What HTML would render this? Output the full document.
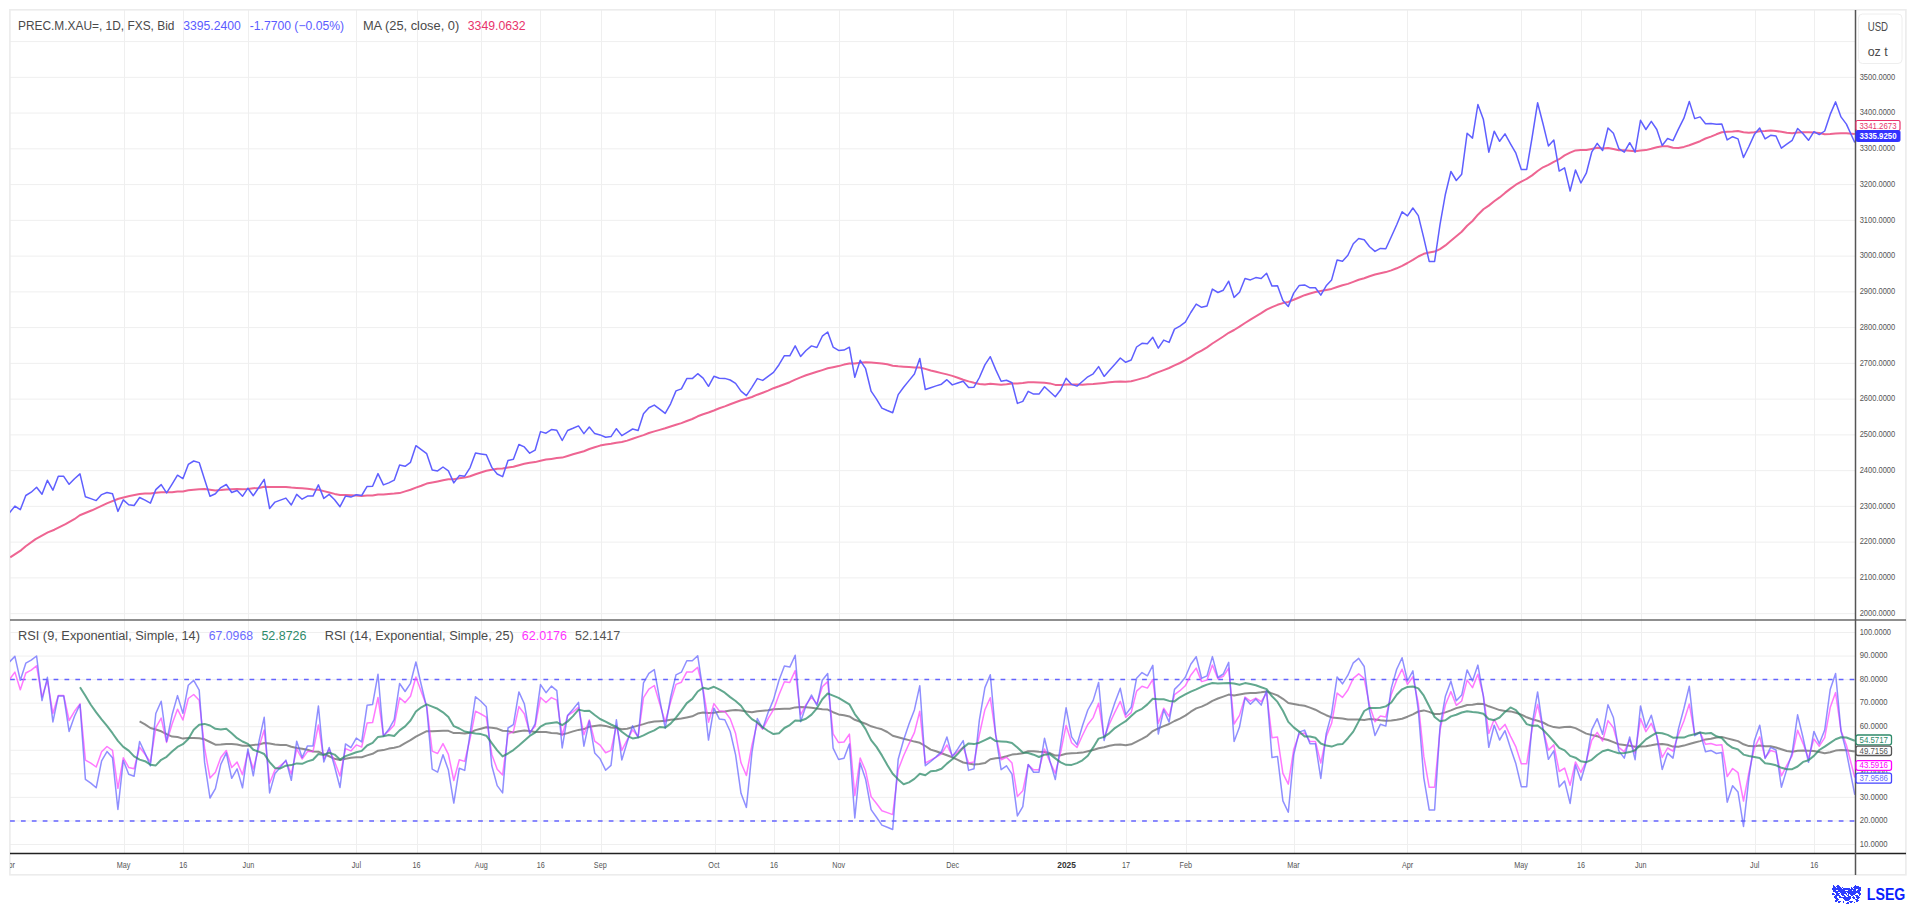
<!DOCTYPE html><html><head><meta charset="utf-8"><style>html,body{margin:0;padding:0;background:#fff;overflow:hidden}svg{display:block}</style></head><body><svg width="1916" height="905" viewBox="0 0 1916 905">
<rect x="0" y="0" width="1916" height="905" fill="#ffffff"/>
<path d="M10 613.65H1855M10 577.89H1855M10 542.14H1855M10 506.38H1855M10 470.63H1855M10 434.88H1855M10 399.12H1855M10 363.37H1855M10 327.61H1855M10 291.86H1855M10 256.1H1855M10 220.35H1855M10 184.59H1855M10 148.84H1855M10 113.08H1855M10 77.33H1855M10 41.57H1855M10 844.5H1855M10 820.95H1855M10 797.39H1855M10 773.84H1855M10 750.28H1855M10 726.73H1855M10 703.17H1855M10 679.62H1855M10 656.06H1855M10 632.5H1855M124.5 10V853M183.5 10V853M248.5 10V853M356.5 10V853M417.5 10V853M481.5 10V853M540.5 10V853M601.5 10V853M715.5 10V853M774.5 10V853M839.5 10V853M953.5 10V853M1066.5 10V853M1126.5 10V853M1186.5 10V853M1294.5 10V853M1407.5 10V853M1521.5 10V853M1581.5 10V853M1641.5 10V853M1755.5 10V853M1814.5 10V853" stroke="#efefef" stroke-width="1" fill="none"/>
<rect x="9.9" y="9.8" width="1896" height="865" fill="none" stroke="#ececec" stroke-width="1.6"/>
<defs><clipPath id="cm"><rect x="10" y="10" width="1845" height="610"/></clipPath><clipPath id="cr"><rect x="10" y="621" width="1845" height="232"/></clipPath></defs>
<g clip-path="url(#cm)"><path d="M10.2 557.3 L21.3 550.1 L25.7 546.2 L35.6 539.1 L47.8 532.4 L54.4 529.7 L65.5 524.1 L74.3 519.2 L79.8 515.3 L92.0 510.3 L107.4 503.1 L118.5 498.7 L129.5 496.0 L139.6 494.1 L145.0 493.6 L150.4 493.5 L155.8 492.7 L161.2 492.3 L166.6 492.3 L172.1 492.2 L177.5 491.4 L182.9 491.4 L188.3 490.3 L193.7 489.7 L199.2 489.2 L204.6 489.0 L210.0 489.7 L215.4 490.5 L220.8 490.1 L226.3 489.5 L231.7 489.2 L237.1 489.0 L242.5 489.2 L247.9 489.0 L253.3 488.3 L258.8 487.9 L264.2 486.8 L269.6 486.9 L275.0 487.1 L280.4 487.1 L285.9 486.9 L291.3 487.6 L296.7 487.9 L302.1 488.2 L307.5 488.7 L313.0 489.5 L318.4 489.8 L323.8 491.1 L329.2 492.5 L334.6 493.9 L340.0 495.0 L345.5 495.0 L350.9 495.2 L356.3 495.4 L361.7 495.9 L367.1 495.6 L372.6 495.5 L378.0 494.6 L383.4 494.4 L388.8 493.9 L394.2 493.6 L399.6 493.1 L405.1 491.4 L410.5 489.8 L415.9 487.6 L421.3 485.7 L426.7 483.6 L432.2 482.6 L437.6 481.5 L443.0 480.3 L448.4 479.3 L453.8 479.2 L459.3 478.3 L464.7 477.6 L470.1 476.3 L475.5 474.2 L480.9 472.5 L486.3 470.8 L491.8 469.7 L497.2 468.8 L502.6 468.5 L508.0 467.4 L513.4 466.8 L518.9 465.2 L524.3 463.8 L529.7 462.7 L535.1 462.1 L540.5 460.7 L546.0 459.6 L551.4 458.9 L556.8 458.1 L562.2 457.6 L567.6 456.0 L573.0 454.3 L578.5 452.7 L583.9 451.2 L589.3 449.0 L594.7 447.3 L600.1 445.6 L605.6 444.4 L611.0 443.8 L616.4 442.8 L621.8 442.0 L627.2 440.6 L632.6 438.8 L638.1 436.9 L643.5 435.1 L648.9 433.0 L654.3 431.4 L659.7 429.9 L665.2 428.3 L670.6 426.5 L676.0 424.8 L681.4 423.1 L686.8 421.0 L692.3 419.0 L697.7 416.3 L703.1 414.2 L708.5 412.5 L713.9 410.5 L719.3 408.3 L724.8 406.4 L730.2 404.2 L735.6 402.2 L741.0 400.3 L746.4 398.7 L751.9 397.0 L757.3 394.7 L762.7 392.7 L768.1 390.6 L773.5 388.2 L779.0 386.3 L784.4 384.2 L789.8 382.2 L795.2 379.7 L800.6 377.4 L806.0 375.3 L811.5 373.5 L816.9 371.8 L822.3 370.1 L827.7 368.3 L833.1 367.2 L838.6 366.1 L844.0 364.6 L849.4 363.5 L854.8 363.4 L860.2 362.7 L865.6 362.3 L871.1 362.6 L876.5 362.9 L881.9 363.4 L887.3 364.3 L892.7 365.7 L898.2 366.3 L903.6 366.7 L909.0 367.0 L914.4 367.4 L919.8 367.5 L925.3 368.9 L930.7 370.5 L936.1 371.7 L941.5 373.1 L946.9 374.4 L952.3 375.9 L957.8 377.8 L963.2 379.8 L968.6 381.4 L974.0 382.8 L979.4 383.9 L984.9 384.6 L990.3 383.8 L995.7 384.2 L1001.1 384.7 L1006.5 384.3 L1012.0 383.6 L1017.4 383.4 L1022.8 383.0 L1028.2 382.2 L1033.6 382.2 L1039.0 382.4 L1044.5 382.7 L1049.9 383.4 L1055.3 384.9 L1060.7 384.9 L1066.1 384.6 L1071.6 384.5 L1077.0 384.6 L1082.4 384.7 L1087.8 384.3 L1093.2 384.0 L1098.6 383.4 L1104.1 382.9 L1109.5 382.3 L1114.9 381.7 L1120.3 381.5 L1125.7 381.7 L1131.2 381.3 L1136.6 379.9 L1142.0 378.4 L1147.4 376.9 L1152.8 374.2 L1158.3 372.1 L1163.7 370.1 L1169.1 368.0 L1174.5 365.4 L1179.9 363.0 L1185.3 360.2 L1190.8 356.8 L1196.2 353.4 L1201.6 350.6 L1207.0 347.4 L1212.4 343.5 L1217.9 340.0 L1223.3 336.5 L1228.7 332.8 L1234.1 330.0 L1239.5 326.7 L1245.0 323.0 L1250.4 319.6 L1255.8 316.4 L1261.2 313.1 L1266.6 309.6 L1272.0 307.1 L1277.5 304.8 L1282.9 303.1 L1288.3 301.9 L1293.7 299.7 L1299.1 297.5 L1304.6 295.2 L1310.0 293.5 L1315.4 292.0 L1320.8 290.9 L1326.2 289.9 L1331.6 288.9 L1337.1 287.0 L1342.5 285.2 L1347.9 283.9 L1353.3 281.9 L1358.7 279.8 L1364.2 278.2 L1369.6 276.2 L1375.0 274.5 L1380.4 273.3 L1385.8 272.1 L1391.3 270.4 L1396.7 268.3 L1402.1 265.8 L1407.5 263.0 L1412.9 259.9 L1418.3 256.5 L1423.8 253.8 L1429.2 252.5 L1434.6 251.6 L1440.0 249.1 L1445.4 245.4 L1450.9 240.7 L1456.3 236.2 L1461.7 231.7 L1467.1 225.8 L1472.5 221.0 L1477.9 214.7 L1483.4 209.3 L1488.8 205.6 L1494.2 201.3 L1499.6 197.4 L1505.0 192.9 L1510.5 188.6 L1515.9 184.7 L1521.3 181.6 L1526.7 178.9 L1532.1 175.4 L1537.6 171.0 L1543.0 167.3 L1548.4 164.9 L1553.8 161.8 L1559.2 159.2 L1564.6 155.4 L1570.1 152.6 L1575.5 150.4 L1580.9 150.0 L1586.3 150.0 L1591.7 148.9 L1597.2 147.7 L1602.6 148.4 L1608.0 148.0 L1613.4 149.1 L1618.8 150.3 L1624.3 150.3 L1629.7 150.7 L1635.1 151.2 L1640.5 150.6 L1645.9 150.1 L1651.3 148.8 L1656.8 147.2 L1662.2 146.2 L1667.6 146.3 L1673.0 147.8 L1678.4 148.0 L1683.9 146.9 L1689.3 145.3 L1694.7 143.2 L1700.1 141.2 L1705.5 138.5 L1710.9 136.6 L1716.4 134.3 L1721.8 132.3 L1727.2 131.8 L1732.6 131.6 L1738.0 131.1 L1743.5 132.3 L1748.9 132.8 L1754.3 132.2 L1759.7 131.3 L1765.1 131.1 L1770.6 130.4 L1776.0 131.1 L1781.4 131.8 L1786.8 132.7 L1792.2 133.2 L1797.6 132.5 L1803.1 132.3 L1808.5 132.3 L1813.9 132.4 L1819.3 133.0 L1824.7 134.2 L1830.2 134.1 L1835.6 133.5 L1841.0 133.2 L1846.4 133.2 L1854.8 133.9" fill="none" stroke="#ee6592" stroke-width="2" stroke-linejoin="round"/>
<path d="M9.5 512.8 L14.9 506.1 L20.3 509.7 L25.8 495.5 L31.2 492.2 L36.6 487.2 L42.0 494.2 L47.4 480.3 L52.9 490.2 L58.3 476.3 L63.7 476.3 L69.1 484.3 L74.5 478.7 L80.0 473.9 L85.4 496.8 L90.8 498.6 L96.2 500.6 L101.6 494.6 L107.0 492.5 L112.5 493.8 L117.9 511.4 L123.3 499.9 L128.7 504.8 L134.1 505.5 L139.6 497.5 L145.0 500.2 L150.4 503.1 L155.8 489.6 L161.2 484.6 L166.6 492.9 L172.1 484.1 L177.5 475.2 L182.9 478.7 L188.3 464.4 L193.7 461.0 L199.2 462.6 L204.6 479.4 L210.0 496.2 L215.4 493.8 L220.8 487.6 L226.3 484.5 L231.7 492.5 L237.1 490.5 L242.5 496.3 L247.9 488.2 L253.3 495.7 L258.8 487.5 L264.2 479.3 L269.6 508.5 L275.0 502.1 L280.4 500.1 L285.9 498.1 L291.3 505.0 L296.7 494.4 L302.1 499.2 L307.5 496.1 L313.0 496.1 L318.4 484.9 L323.8 498.4 L329.2 494.4 L334.6 499.7 L340.0 506.7 L345.5 496.1 L350.9 497.1 L356.3 494.8 L361.7 495.5 L367.1 486.4 L372.6 486.2 L378.0 473.6 L383.4 484.9 L388.8 482.9 L394.2 480.2 L399.6 465.0 L405.1 466.3 L410.5 462.3 L415.9 445.7 L421.3 449.7 L426.7 453.7 L432.2 469.9 L437.6 470.9 L443.0 467.0 L448.4 470.9 L453.8 482.9 L459.3 475.6 L464.7 476.2 L470.1 467.6 L475.5 453.0 L480.9 453.9 L486.3 454.8 L491.8 467.4 L497.2 474.0 L502.6 476.7 L508.0 460.4 L513.4 459.2 L518.9 444.5 L524.3 446.9 L529.7 453.2 L535.1 450.2 L540.5 431.6 L546.0 433.2 L551.4 429.6 L556.8 430.3 L562.2 440.5 L567.6 430.5 L573.0 428.3 L578.5 425.9 L583.9 433.6 L589.3 427.0 L594.7 433.6 L600.1 434.9 L605.6 437.3 L611.0 436.6 L616.4 428.7 L621.8 435.6 L627.2 432.3 L632.6 429.0 L638.1 430.5 L643.5 413.7 L648.9 407.7 L654.3 405.1 L659.7 409.1 L665.2 413.4 L670.6 403.8 L676.0 390.9 L681.4 388.9 L686.8 378.6 L692.3 378.6 L697.7 373.7 L703.1 378.2 L708.5 386.3 L713.9 376.3 L719.3 378.2 L724.8 378.4 L730.2 380.0 L735.6 383.3 L741.0 391.2 L746.4 395.6 L751.9 387.3 L757.3 378.6 L762.7 380.4 L768.1 376.3 L773.5 372.4 L779.0 364.7 L784.4 355.7 L789.8 355.8 L795.2 345.8 L800.6 356.5 L806.0 350.5 L811.5 345.9 L816.9 347.5 L822.3 336.2 L827.7 332.0 L833.1 347.1 L838.6 350.4 L844.0 350.1 L849.4 347.2 L854.8 377.3 L860.2 360.3 L865.6 368.7 L871.1 391.2 L876.5 399.2 L881.9 408.1 L887.3 410.5 L892.7 412.7 L898.2 394.6 L903.6 387.3 L909.0 380.6 L914.4 374.0 L919.8 358.5 L925.3 389.5 L930.7 387.7 L936.1 385.9 L941.5 384.2 L946.9 379.7 L952.3 384.9 L957.8 383.0 L963.2 381.2 L968.6 387.5 L974.0 387.2 L979.4 377.5 L984.9 364.9 L990.3 356.7 L995.7 369.6 L1001.1 381.2 L1006.5 380.2 L1012.0 382.8 L1017.4 403.4 L1022.8 401.4 L1028.2 391.4 L1033.6 394.1 L1039.0 394.1 L1044.5 386.8 L1049.9 391.8 L1055.3 396.7 L1060.7 389.7 L1066.1 378.2 L1071.6 384.4 L1077.0 386.1 L1082.4 381.5 L1087.8 376.8 L1093.2 373.8 L1098.6 366.6 L1104.1 376.4 L1109.5 370.2 L1114.9 364.3 L1120.3 358.0 L1125.7 362.3 L1131.2 360.0 L1136.6 347.0 L1142.0 343.3 L1147.4 343.7 L1152.8 337.3 L1158.3 348.1 L1163.7 340.1 L1169.1 342.4 L1174.5 329.1 L1179.9 326.1 L1185.3 322.2 L1190.8 312.5 L1196.2 304.1 L1201.6 307.3 L1207.0 306.0 L1212.4 289.1 L1217.9 292.5 L1223.3 290.2 L1228.7 281.2 L1234.1 297.4 L1239.5 292.2 L1245.0 278.5 L1250.4 279.9 L1255.8 277.6 L1261.2 278.5 L1266.6 273.2 L1272.0 286.1 L1277.5 285.8 L1282.9 300.4 L1288.3 306.4 L1293.7 293.1 L1299.1 285.6 L1304.6 284.9 L1310.0 287.8 L1315.4 287.8 L1320.8 295.1 L1326.2 285.8 L1331.6 279.9 L1337.1 260.0 L1342.5 261.3 L1347.9 255.3 L1353.3 243.8 L1358.7 238.5 L1364.2 239.7 L1369.6 246.7 L1375.0 251.4 L1380.4 248.4 L1385.8 248.7 L1391.3 236.8 L1396.7 224.8 L1402.1 211.8 L1407.5 215.9 L1412.9 208.0 L1418.3 215.6 L1423.8 238.1 L1429.2 261.4 L1434.6 261.4 L1440.0 224.6 L1445.4 194.2 L1450.9 171.5 L1456.3 180.5 L1461.7 174.2 L1467.1 133.3 L1472.5 138.1 L1477.9 104.5 L1483.4 119.6 L1488.8 152.2 L1494.2 131.2 L1499.6 141.3 L1505.0 133.9 L1510.5 143.8 L1515.9 153.2 L1521.3 169.4 L1526.7 169.4 L1532.1 137.5 L1537.6 102.8 L1543.0 123.8 L1548.4 145.9 L1553.8 140.0 L1559.2 171.1 L1564.6 167.9 L1570.1 191.0 L1575.5 170.0 L1580.9 183.0 L1586.3 173.2 L1591.7 152.2 L1597.2 143.4 L1602.6 150.5 L1608.0 128.0 L1613.4 133.3 L1618.8 148.6 L1624.3 152.2 L1629.7 142.7 L1635.1 152.2 L1640.5 120.3 L1645.9 129.5 L1651.3 121.3 L1656.8 129.5 L1662.2 145.5 L1667.6 138.5 L1673.0 140.6 L1678.4 129.1 L1683.9 118.2 L1689.3 101.4 L1694.7 118.6 L1700.1 116.9 L1705.5 123.8 L1710.9 123.4 L1716.4 124.3 L1721.8 124.0 L1727.2 139.9 L1732.6 136.7 L1738.0 138.9 L1743.5 157.5 L1748.9 146.5 L1754.3 134.6 L1759.7 128.1 L1765.1 138.9 L1770.6 135.3 L1776.0 136.0 L1781.4 148.2 L1786.8 144.2 L1792.2 140.3 L1797.6 128.5 L1803.1 133.8 L1808.5 140.3 L1813.9 131.7 L1819.3 134.6 L1824.7 131.0 L1830.2 114.4 L1835.6 101.9 L1841.0 116.9 L1846.4 124.1 L1854.8 142.5" fill="none" stroke="#5f5fff" stroke-width="1.5" stroke-linejoin="round"/></g>
<g clip-path="url(#cr)">
<path d="M10 679.6H1855M10 820.9H1855" stroke="#6464ff" stroke-width="1.5" stroke-dasharray="4.75 6.135" stroke-dashoffset="-0.05" fill="none"/>
<path d="M139.6 721.4 L145.0 724.4 L150.4 728.0 L155.8 729.5 L161.2 731.3 L166.6 734.2 L172.1 736.6 L177.5 737.0 L182.9 738.6 L188.3 738.0 L193.7 738.0 L199.2 738.2 L204.6 739.3 L210.0 742.0 L215.4 744.7 L220.8 744.6 L226.3 744.1 L231.7 744.1 L237.1 744.5 L242.5 745.7 L247.9 745.7 L253.3 744.9 L258.8 744.5 L264.2 743.0 L269.6 743.6 L275.0 744.5 L280.4 745.0 L285.9 744.9 L291.3 746.8 L296.7 748.0 L302.1 748.7 L307.5 749.8 L313.0 751.5 L318.4 751.7 L323.8 754.1 L329.2 756.3 L334.6 758.8 L340.0 759.9 L345.5 758.7 L350.9 757.8 L356.3 757.3 L361.7 757.2 L367.1 755.4 L372.6 753.8 L378.0 750.7 L383.4 750.1 L388.8 748.6 L394.2 747.7 L399.6 746.4 L405.1 743.1 L410.5 740.2 L415.9 736.7 L421.3 733.9 L426.7 731.2 L432.2 731.3 L437.6 731.0 L443.0 730.7 L448.4 730.8 L453.8 733.1 L459.3 733.1 L464.7 733.6 L470.1 732.7 L475.5 730.1 L480.9 728.7 L486.3 727.3 L491.8 727.7 L497.2 728.6 L502.6 730.7 L508.0 731.1 L513.4 732.5 L518.9 731.3 L524.3 730.6 L529.7 731.0 L535.1 732.1 L540.5 731.9 L546.0 732.1 L551.4 733.0 L556.8 733.3 L562.2 734.5 L567.6 733.1 L573.0 731.4 L578.5 729.9 L583.9 729.1 L589.3 726.7 L594.7 726.0 L600.1 725.3 L605.6 725.9 L611.0 727.5 L616.4 727.9 L621.8 729.2 L627.2 728.7 L632.6 727.1 L638.1 725.6 L643.5 724.1 L648.9 722.4 L654.3 721.6 L659.7 721.2 L665.2 720.7 L670.6 719.8 L676.0 719.2 L681.4 718.4 L686.8 717.4 L692.3 716.3 L697.7 713.6 L703.1 712.5 L708.5 712.9 L713.9 712.8 L719.3 711.8 L724.8 711.5 L730.2 710.6 L735.6 710.1 L741.0 710.5 L746.4 711.5 L751.9 712.3 L757.3 711.2 L762.7 710.8 L768.1 710.3 L773.5 709.3 L779.0 709.1 L784.4 708.8 L789.8 708.7 L795.2 707.4 L800.6 707.1 L806.0 707.2 L811.5 707.7 L816.9 708.6 L822.3 709.2 L827.7 709.6 L833.1 712.2 L838.6 714.4 L844.0 715.2 L849.4 716.4 L854.8 719.8 L860.2 721.7 L865.6 723.7 L871.1 726.3 L876.5 727.9 L881.9 729.3 L887.3 732.0 L892.7 735.7 L898.2 737.3 L903.6 738.8 L909.0 740.1 L914.4 741.6 L919.8 742.8 L925.3 746.0 L930.7 749.6 L936.1 751.3 L941.5 753.3 L946.9 755.2 L952.3 757.3 L957.8 759.9 L963.2 762.5 L968.6 763.6 L974.0 764.4 L979.4 764.1 L984.9 763.1 L990.3 759.2 L995.7 758.3 L1001.1 757.8 L1006.5 756.3 L1012.0 754.6 L1017.4 754.1 L1022.8 753.2 L1028.2 751.2 L1033.6 751.2 L1039.0 751.8 L1044.5 752.0 L1049.9 753.1 L1055.3 755.6 L1060.7 755.2 L1066.1 753.8 L1071.6 753.2 L1077.0 753.0 L1082.4 752.6 L1087.8 751.3 L1093.2 750.0 L1098.6 748.2 L1104.1 747.2 L1109.5 745.7 L1114.9 744.8 L1120.3 744.5 L1125.7 745.2 L1131.2 744.3 L1136.6 741.6 L1142.0 738.8 L1147.4 735.8 L1152.8 731.1 L1158.3 728.4 L1163.7 726.1 L1169.1 724.0 L1174.5 721.0 L1179.9 718.7 L1185.3 715.6 L1190.8 711.7 L1196.2 708.4 L1201.6 706.6 L1207.0 704.1 L1212.4 700.8 L1217.9 698.5 L1223.3 696.6 L1228.7 694.6 L1234.1 695.5 L1239.5 694.5 L1245.0 693.5 L1250.4 693.0 L1255.8 692.9 L1261.2 692.3 L1266.6 691.5 L1272.0 693.4 L1277.5 695.4 L1282.9 698.8 L1288.3 703.0 L1293.7 704.1 L1299.1 705.1 L1304.6 705.8 L1310.0 707.6 L1315.4 709.7 L1320.8 712.7 L1326.2 715.2 L1331.6 717.4 L1337.1 717.9 L1342.5 718.6 L1347.9 719.6 L1353.3 719.6 L1358.7 719.5 L1364.2 719.9 L1369.6 719.1 L1375.0 719.4 L1380.4 720.2 L1385.8 720.8 L1391.3 720.6 L1396.7 719.8 L1402.1 718.8 L1407.5 716.7 L1412.9 714.3 L1418.3 711.5 L1423.8 710.4 L1429.2 711.9 L1434.6 714.0 L1440.0 713.9 L1445.4 712.4 L1450.9 710.4 L1456.3 708.1 L1461.7 706.7 L1467.1 705.0 L1472.5 704.7 L1477.9 703.8 L1483.4 704.0 L1488.8 706.3 L1494.2 708.1 L1499.6 710.1 L1505.0 710.9 L1510.5 711.4 L1515.9 712.7 L1521.3 714.6 L1526.7 717.3 L1532.1 719.3 L1537.6 720.7 L1543.0 722.5 L1548.4 725.4 L1553.8 727.1 L1559.2 727.7 L1564.6 726.9 L1570.1 726.8 L1575.5 728.1 L1580.9 730.8 L1586.3 733.6 L1591.7 735.0 L1597.2 736.2 L1602.6 738.7 L1608.0 740.0 L1613.4 742.1 L1618.8 744.2 L1624.3 744.9 L1629.7 745.7 L1635.1 746.7 L1640.5 746.4 L1645.9 746.2 L1651.3 745.3 L1656.8 744.2 L1662.2 743.9 L1667.6 744.7 L1673.0 746.6 L1678.4 746.8 L1683.9 745.6 L1689.3 744.0 L1694.7 742.5 L1700.1 741.1 L1705.5 739.4 L1710.9 738.7 L1716.4 737.6 L1721.8 736.9 L1727.2 738.4 L1732.6 739.8 L1738.0 741.1 L1743.5 744.3 L1748.9 746.1 L1754.3 746.2 L1759.7 745.6 L1765.1 746.3 L1770.6 746.2 L1776.0 747.5 L1781.4 749.3 L1786.8 751.0 L1792.2 751.8 L1797.6 750.7 L1803.1 750.5 L1808.5 750.8 L1813.9 751.0 L1819.3 752.0 L1824.7 753.3 L1830.2 752.2 L1835.6 750.6 L1841.0 750.1 L1846.4 750.2 L1854.8 751.5" fill="none" stroke="#707070" stroke-opacity="0.8" stroke-width="2" stroke-linejoin="round"/>
<path d="M9.5 679.6 L14.9 672.1 L20.3 689.8 L25.8 673.0 L31.2 670.1 L36.6 665.8 L42.0 697.1 L47.4 680.2 L52.9 713.5 L58.3 695.5 L63.7 695.5 L69.1 720.5 L74.5 711.3 L80.0 703.9 L85.4 760.1 L90.8 763.2 L96.2 767.0 L101.6 751.8 L107.0 746.5 L112.5 750.3 L117.9 788.3 L123.3 757.8 L128.7 767.4 L134.1 768.8 L139.6 747.3 L145.0 754.2 L150.4 761.9 L155.8 727.6 L161.2 718.1 L166.6 742.4 L172.1 724.0 L177.5 709.2 L182.9 720.0 L188.3 698.5 L193.7 694.5 L199.2 700.2 L204.6 748.2 L210.0 778.0 L215.4 772.3 L220.8 757.5 L226.3 750.5 L231.7 767.5 L237.1 762.1 L242.5 774.7 L247.9 751.9 L253.3 769.0 L258.8 747.6 L264.2 730.0 L269.6 783.2 L275.0 769.9 L280.4 765.6 L285.9 761.0 L291.3 774.0 L296.7 749.0 L302.1 759.0 L307.5 751.6 L313.0 751.6 L318.4 725.0 L323.8 758.8 L329.2 749.4 L334.6 761.6 L340.0 776.0 L345.5 748.6 L350.9 750.9 L356.3 744.9 L361.7 747.0 L367.1 723.1 L372.6 722.5 L378.0 697.5 L383.4 735.5 L388.8 731.0 L394.2 724.9 L399.6 697.8 L405.1 702.6 L410.5 696.3 L415.9 677.0 L421.3 691.8 L426.7 706.2 L432.2 751.1 L437.6 753.5 L443.0 743.6 L448.4 754.3 L453.8 780.5 L459.3 759.8 L464.7 761.4 L470.1 738.5 L475.5 711.2 L480.9 714.0 L486.3 717.1 L491.8 754.4 L497.2 769.3 L502.6 774.9 L508.0 734.0 L513.4 731.6 L518.9 706.6 L524.3 713.8 L529.7 732.6 L535.1 726.3 L540.5 697.5 L546.0 702.5 L551.4 697.6 L556.8 700.1 L562.2 735.4 L567.6 715.7 L573.0 711.8 L578.5 707.4 L583.9 734.7 L589.3 719.9 L594.7 741.1 L600.1 745.1 L605.6 752.8 L611.0 750.4 L616.4 725.3 L621.8 750.4 L627.2 739.9 L632.6 729.9 L638.1 736.7 L643.5 697.7 L648.9 689.1 L654.3 685.5 L659.7 703.6 L665.2 722.0 L670.6 702.1 L676.0 684.4 L681.4 682.2 L686.8 671.9 L692.3 671.9 L697.7 667.4 L703.1 689.2 L708.5 722.2 L713.9 703.6 L719.3 710.9 L724.8 711.4 L730.2 718.7 L735.6 733.6 L741.0 762.8 L746.4 775.5 L751.9 745.4 L757.3 722.8 L762.7 729.2 L768.1 718.7 L773.5 709.7 L779.0 694.7 L784.4 681.7 L789.8 682.4 L795.2 670.6 L800.6 715.0 L806.0 704.6 L811.5 697.3 L816.9 703.9 L822.3 686.8 L827.7 681.6 L833.1 733.8 L838.6 742.6 L844.0 742.0 L849.4 734.1 L854.8 795.7 L860.2 758.1 L865.6 770.8 L871.1 796.6 L876.5 803.5 L881.9 810.7 L887.3 812.6 L892.7 814.6 L898.2 769.8 L903.6 755.7 L909.0 743.8 L914.4 732.6 L919.8 711.2 L925.3 763.0 L930.7 760.1 L936.1 757.1 L941.5 753.8 L946.9 745.0 L952.3 755.8 L957.8 751.6 L963.2 747.0 L968.6 762.9 L974.0 762.1 L979.4 734.5 L984.9 709.7 L990.3 697.8 L995.7 734.9 L1001.1 759.7 L1006.5 757.2 L1012.0 763.0 L1017.4 796.5 L1022.8 790.8 L1028.2 764.7 L1033.6 769.7 L1039.0 769.7 L1044.5 749.0 L1049.9 761.8 L1055.3 773.2 L1060.7 752.0 L1066.1 725.4 L1071.6 742.8 L1077.0 747.5 L1082.4 735.5 L1087.8 724.5 L1093.2 717.6 L1098.6 703.2 L1104.1 738.0 L1109.5 723.8 L1114.9 712.1 L1120.3 701.4 L1125.7 717.3 L1131.2 712.6 L1136.6 691.1 L1142.0 686.3 L1147.4 688.1 L1152.8 679.5 L1158.3 723.3 L1163.7 708.2 L1169.1 716.4 L1174.5 694.7 L1179.9 690.7 L1185.3 685.8 L1190.8 675.2 L1196.2 668.1 L1201.6 681.6 L1207.0 680.1 L1212.4 665.0 L1217.9 678.6 L1223.3 676.3 L1228.7 668.1 L1234.1 724.0 L1239.5 715.4 L1245.0 697.1 L1250.4 701.2 L1255.8 698.1 L1261.2 701.7 L1266.6 693.2 L1272.0 737.7 L1277.5 737.1 L1282.9 773.3 L1288.3 784.2 L1293.7 749.6 L1299.1 734.3 L1304.6 733.0 L1310.0 741.4 L1315.4 741.4 L1320.8 763.1 L1326.2 736.8 L1331.6 723.3 L1337.1 693.1 L1342.5 697.4 L1347.9 690.0 L1353.3 678.3 L1358.7 673.8 L1364.2 678.6 L1369.6 705.8 L1375.0 721.8 L1380.4 715.9 L1385.8 716.9 L1391.3 694.5 L1396.7 680.0 L1402.1 669.2 L1407.5 684.4 L1412.9 676.8 L1418.3 703.3 L1423.8 756.4 L1429.2 787.3 L1434.6 787.3 L1440.0 730.3 L1445.4 704.8 L1450.9 691.6 L1456.3 705.3 L1461.7 701.0 L1467.1 680.1 L1472.5 687.6 L1477.9 674.2 L1483.4 695.9 L1488.8 733.4 L1494.2 719.3 L1499.6 730.0 L1505.0 724.4 L1510.5 736.1 L1515.9 746.9 L1521.3 763.8 L1526.7 763.8 L1532.1 728.6 L1537.6 704.4 L1543.0 728.9 L1548.4 750.2 L1553.8 744.9 L1559.2 771.5 L1564.6 768.1 L1570.1 785.3 L1575.5 761.9 L1580.9 772.4 L1586.3 761.3 L1591.7 740.2 L1597.2 732.4 L1602.6 741.0 L1608.0 720.6 L1613.4 727.7 L1618.8 747.4 L1624.3 751.8 L1629.7 739.9 L1635.1 753.1 L1640.5 718.5 L1645.9 731.6 L1651.3 723.4 L1656.8 736.0 L1662.2 757.5 L1667.6 748.0 L1673.0 751.1 L1678.4 734.5 L1683.9 721.0 L1689.3 704.1 L1694.7 734.3 L1700.1 732.2 L1705.5 744.2 L1710.9 743.5 L1716.4 745.2 L1721.8 744.7 L1727.2 776.6 L1732.6 768.5 L1738.0 772.7 L1743.5 801.0 L1748.9 772.6 L1754.3 748.3 L1759.7 736.9 L1765.1 757.7 L1770.6 750.5 L1776.0 752.1 L1781.4 775.8 L1786.8 765.4 L1792.2 755.6 L1797.6 730.2 L1803.1 743.6 L1808.5 758.5 L1813.9 738.9 L1819.3 746.2 L1824.7 737.6 L1830.2 707.6 L1835.6 692.6 L1841.0 730.5 L1846.4 745.2 L1854.8 777.5" fill="none" stroke="#ff40ff" stroke-opacity="0.7" stroke-width="1.5" stroke-linejoin="round"/>
<path d="M9.5 661.9 L14.9 656.4 L20.3 680.3 L25.8 663.2 L31.2 660.2 L36.6 656.0 L42.0 700.6 L47.4 677.3 L52.9 721.9 L58.3 695.9 L63.7 695.9 L69.1 731.4 L74.5 716.3 L80.0 704.5 L85.4 779.4 L90.8 783.1 L96.2 787.8 L101.6 760.8 L107.0 751.6 L112.5 757.8 L117.9 809.5 L123.3 760.4 L128.7 774.3 L134.1 776.2 L139.6 741.5 L145.0 753.1 L150.4 765.9 L155.8 713.5 L161.2 701.3 L166.6 741.4 L172.1 714.8 L177.5 695.6 L182.9 713.3 L188.3 685.2 L193.7 680.4 L199.2 690.2 L204.6 762.4 L210.0 798.0 L215.4 788.7 L220.8 764.3 L226.3 752.9 L231.7 778.3 L237.1 768.9 L242.5 787.8 L247.9 749.1 L253.3 775.8 L258.8 742.2 L264.2 717.3 L269.6 792.9 L275.0 773.6 L280.4 767.3 L285.9 760.1 L291.3 780.3 L296.7 741.2 L302.1 757.6 L307.5 745.9 L313.0 745.9 L318.4 706.1 L323.8 762.0 L329.2 747.4 L334.6 766.5 L340.0 787.5 L345.5 743.9 L350.9 747.6 L356.3 738.1 L361.7 741.9 L367.1 705.3 L372.6 704.4 L378.0 674.2 L383.4 736.1 L388.8 729.3 L394.2 719.7 L399.6 683.5 L405.1 691.5 L410.5 683.3 L415.9 661.9 L421.3 685.0 L426.7 707.5 L432.2 769.2 L437.6 772.2 L443.0 754.7 L448.4 770.1 L453.8 803.1 L459.3 768.2 L464.7 770.4 L470.1 733.2 L475.5 696.7 L480.9 701.3 L486.3 706.7 L491.8 765.7 L497.2 785.6 L502.6 792.9 L508.0 728.0 L513.4 724.6 L518.9 691.9 L524.3 703.7 L529.7 733.8 L535.1 723.8 L540.5 684.6 L546.0 692.7 L551.4 686.1 L556.8 690.6 L562.2 748.0 L567.6 715.4 L573.0 709.2 L578.5 702.4 L583.9 746.2 L589.3 721.0 L594.7 752.9 L600.1 758.8 L605.6 770.2 L611.0 765.4 L616.4 719.8 L621.8 760.0 L627.2 742.1 L632.6 725.8 L638.1 737.5 L643.5 682.8 L648.9 673.4 L654.3 669.6 L659.7 699.4 L665.2 728.2 L670.6 697.5 L676.0 674.9 L681.4 672.2 L686.8 660.7 L692.3 660.7 L697.7 655.7 L703.1 691.6 L708.5 740.1 L713.9 708.2 L719.3 718.9 L724.8 719.7 L730.2 731.5 L735.6 754.9 L741.0 793.3 L746.4 807.4 L751.9 753.0 L757.3 718.5 L762.7 728.5 L768.1 712.6 L773.5 699.6 L779.0 680.2 L784.4 666.0 L789.8 667.1 L795.2 655.3 L800.6 721.7 L806.0 705.8 L811.5 695.0 L816.9 705.3 L822.3 680.2 L827.7 673.5 L833.1 748.1 L838.6 759.5 L844.0 758.3 L849.4 743.9 L854.8 818.0 L860.2 763.1 L865.6 779.2 L871.1 809.6 L876.5 817.3 L881.9 825.1 L887.3 827.3 L892.7 829.5 L898.2 759.2 L903.6 740.0 L909.0 724.1 L914.4 709.9 L919.8 685.7 L925.3 765.7 L930.7 761.5 L936.1 756.9 L941.5 751.6 L946.9 737.0 L952.3 756.6 L957.8 748.9 L963.2 740.6 L968.6 770.4 L974.0 768.7 L979.4 719.8 L984.9 687.6 L990.3 674.8 L995.7 735.0 L1001.1 769.7 L1006.5 765.8 L1012.0 774.2 L1017.4 815.9 L1022.8 806.6 L1028.2 764.5 L1033.6 772.2 L1039.0 772.2 L1044.5 738.3 L1049.9 760.8 L1055.3 779.5 L1060.7 744.5 L1066.1 707.8 L1071.6 736.9 L1077.0 744.6 L1082.4 726.0 L1087.8 710.0 L1093.2 700.4 L1098.6 682.4 L1104.1 740.5 L1109.5 719.0 L1114.9 702.4 L1120.3 688.3 L1125.7 714.6 L1131.2 707.3 L1136.6 678.2 L1142.0 672.6 L1147.4 675.8 L1152.8 665.3 L1158.3 734.0 L1163.7 709.8 L1169.1 722.1 L1174.5 689.4 L1179.9 684.0 L1185.3 677.3 L1190.8 664.3 L1196.2 656.7 L1201.6 678.2 L1207.0 675.9 L1212.4 656.6 L1217.9 677.5 L1223.3 674.0 L1228.7 662.4 L1234.1 741.5 L1239.5 727.0 L1245.0 698.1 L1250.4 704.2 L1255.8 699.1 L1261.2 705.1 L1266.6 690.5 L1272.0 757.6 L1277.5 756.4 L1282.9 800.9 L1288.3 812.3 L1293.7 754.8 L1299.1 732.1 L1304.6 730.1 L1310.0 743.7 L1315.4 743.7 L1320.8 778.4 L1326.2 733.6 L1331.6 713.6 L1337.1 676.9 L1342.5 683.9 L1347.9 675.2 L1353.3 662.8 L1358.7 658.4 L1364.2 666.5 L1369.6 711.2 L1375.0 735.5 L1380.4 724.3 L1385.8 726.1 L1391.3 688.1 L1396.7 669.3 L1402.1 657.8 L1407.5 681.0 L1412.9 670.8 L1418.3 710.3 L1423.8 777.8 L1429.2 809.9 L1434.6 809.9 L1440.0 727.0 L1445.4 696.2 L1450.9 681.3 L1456.3 700.7 L1461.7 695.1 L1467.1 669.9 L1472.5 681.0 L1477.9 665.1 L1483.4 696.7 L1488.8 747.3 L1494.2 725.2 L1499.6 740.0 L1505.0 730.7 L1510.5 748.1 L1515.9 763.8 L1521.3 786.7 L1526.7 786.7 L1532.1 724.5 L1537.6 691.9 L1543.0 729.2 L1548.4 759.3 L1553.8 750.8 L1559.2 786.9 L1564.6 781.1 L1570.1 803.4 L1575.5 764.9 L1580.9 780.2 L1586.3 762.0 L1591.7 729.9 L1597.2 718.7 L1602.6 734.3 L1608.0 704.7 L1613.4 717.5 L1618.8 750.9 L1624.3 758.1 L1629.7 737.0 L1635.1 759.7 L1640.5 706.0 L1645.9 727.5 L1651.3 715.3 L1656.8 736.4 L1662.2 769.5 L1667.6 753.1 L1673.0 758.1 L1678.4 729.1 L1683.9 708.5 L1689.3 686.3 L1694.7 735.7 L1700.1 732.4 L1705.5 751.7 L1710.9 750.4 L1716.4 753.5 L1721.8 752.4 L1727.2 802.2 L1732.6 785.8 L1738.0 792.0 L1743.5 826.4 L1748.9 777.8 L1754.3 741.1 L1759.7 725.2 L1765.1 758.5 L1770.6 747.4 L1776.0 750.0 L1781.4 787.2 L1786.8 769.4 L1792.2 752.8 L1797.6 714.8 L1803.1 738.0 L1808.5 762.3 L1813.9 731.4 L1819.3 743.8 L1824.7 730.0 L1830.2 689.6 L1835.6 673.5 L1841.0 731.1 L1846.4 751.8 L1854.8 794.8" fill="none" stroke="#6060ff" stroke-opacity="0.7" stroke-width="1.5" stroke-linejoin="round"/>
<path d="M80.0 687.3 L85.4 695.7 L90.8 704.7 L96.2 712.4 L101.6 719.4 L107.0 725.9 L112.5 733.2 L117.9 740.9 L123.3 746.9 L128.7 750.6 L134.1 756.4 L139.6 759.6 L145.0 761.2 L150.4 764.7 L155.8 765.4 L161.2 759.8 L166.6 756.8 L172.1 751.6 L177.5 746.9 L182.9 744.2 L188.3 739.0 L193.7 729.8 L199.2 724.8 L204.6 723.9 L210.0 725.5 L215.4 728.8 L220.8 729.6 L226.3 728.7 L231.7 733.3 L237.1 738.2 L242.5 741.5 L247.9 743.9 L253.3 749.7 L258.8 751.7 L264.2 754.0 L269.6 762.1 L275.0 768.0 L280.4 768.4 L285.9 765.7 L291.3 765.1 L296.7 763.4 L302.1 763.8 L307.5 761.4 L313.0 759.8 L318.4 754.0 L323.8 754.9 L329.2 752.8 L334.6 754.6 L340.0 759.6 L345.5 756.1 L350.9 754.2 L356.3 752.2 L361.7 750.9 L367.1 745.5 L372.6 742.9 L378.0 736.9 L383.4 736.2 L388.8 735.0 L394.2 736.0 L399.6 730.4 L405.1 726.4 L410.5 720.5 L415.9 711.5 L421.3 707.3 L426.7 704.4 L432.2 706.6 L437.6 708.8 L443.0 712.3 L448.4 717.0 L453.8 726.2 L459.3 728.5 L464.7 731.5 L470.1 732.4 L475.5 733.4 L480.9 734.1 L486.3 735.7 L491.8 743.1 L497.2 750.3 L502.6 756.4 L508.0 753.5 L513.4 750.1 L518.9 745.6 L524.3 740.8 L529.7 735.9 L535.1 732.7 L540.5 726.6 L546.0 723.7 L551.4 722.9 L556.8 722.2 L562.2 725.1 L567.6 721.5 L573.0 716.1 L578.5 709.6 L583.9 710.9 L589.3 710.7 L594.7 715.0 L600.1 719.0 L605.6 721.6 L611.0 724.5 L616.4 727.0 L621.8 731.8 L627.2 735.8 L632.6 738.4 L638.1 737.6 L643.5 735.3 L648.9 732.7 L654.3 730.4 L659.7 727.0 L665.2 727.6 L670.6 723.6 L676.0 717.6 L681.4 710.6 L686.8 703.1 L692.3 698.9 L697.7 691.5 L703.1 687.8 L708.5 688.9 L713.9 686.8 L719.3 689.4 L724.8 692.7 L730.2 697.1 L735.6 701.0 L741.0 705.7 L746.4 713.5 L751.9 719.1 L757.3 722.4 L762.7 727.3 L768.1 731.0 L773.5 734.1 L779.0 733.3 L784.4 728.0 L789.8 725.1 L795.2 720.5 L800.6 720.7 L806.0 718.8 L811.5 714.6 L816.9 708.3 L822.3 699.2 L827.7 693.5 L833.1 695.6 L838.6 697.9 L844.0 701.1 L849.4 704.3 L854.8 714.1 L860.2 721.1 L865.6 729.1 L871.1 740.1 L876.5 746.9 L881.9 755.4 L887.3 764.9 L892.7 773.8 L898.2 779.4 L903.6 784.2 L909.0 782.4 L914.4 778.9 L919.8 773.7 L925.3 775.3 L930.7 771.2 L936.1 770.8 L941.5 768.8 L946.9 763.6 L952.3 759.3 L957.8 753.8 L963.2 747.6 L968.6 743.4 L974.0 744.1 L979.4 742.7 L984.9 740.1 L990.3 737.5 L995.7 741.1 L1001.1 741.4 L1006.5 741.7 L1012.0 742.9 L1017.4 747.5 L1022.8 752.5 L1028.2 753.0 L1033.6 754.7 L1039.0 757.0 L1044.5 754.7 L1049.9 754.1 L1055.3 758.4 L1060.7 762.4 L1066.1 764.8 L1071.6 764.9 L1077.0 763.1 L1082.4 760.3 L1087.8 755.7 L1093.2 747.4 L1098.6 738.6 L1104.1 736.9 L1109.5 733.1 L1114.9 728.1 L1120.3 724.5 L1125.7 721.2 L1131.2 716.0 L1136.6 711.3 L1142.0 708.8 L1147.4 704.4 L1152.8 698.8 L1158.3 699.3 L1163.7 699.3 L1169.1 700.9 L1174.5 701.4 L1179.9 697.3 L1185.3 694.4 L1190.8 691.7 L1196.2 689.4 L1201.6 686.8 L1207.0 684.6 L1212.4 683.0 L1217.9 683.4 L1223.3 683.2 L1228.7 683.0 L1234.1 683.6 L1239.5 684.8 L1245.0 683.1 L1250.4 684.1 L1255.8 685.2 L1261.2 687.2 L1266.6 689.1 L1272.0 696.3 L1277.5 701.9 L1282.9 710.8 L1288.3 721.9 L1293.7 727.4 L1299.1 731.6 L1304.6 736.4 L1310.0 736.6 L1315.4 737.8 L1320.8 743.5 L1326.2 745.6 L1331.6 746.6 L1337.1 744.6 L1342.5 744.1 L1347.9 738.2 L1353.3 731.6 L1358.7 721.4 L1364.2 711.0 L1369.6 707.9 L1375.0 708.1 L1380.4 707.7 L1385.8 706.4 L1391.3 702.5 L1396.7 694.7 L1402.1 689.3 L1407.5 686.9 L1412.9 686.5 L1418.3 688.4 L1423.8 695.7 L1429.2 706.2 L1434.6 717.0 L1440.0 721.3 L1445.4 720.3 L1450.9 716.4 L1456.3 714.7 L1461.7 712.5 L1467.1 711.2 L1472.5 712.0 L1477.9 712.6 L1483.4 713.7 L1488.8 719.1 L1494.2 720.2 L1499.6 717.5 L1505.0 711.9 L1510.5 707.4 L1515.9 710.1 L1521.3 716.5 L1526.7 724.1 L1532.1 725.8 L1537.6 725.5 L1543.0 729.8 L1548.4 735.4 L1553.8 741.5 L1559.2 747.9 L1564.6 750.4 L1570.1 755.9 L1575.5 757.7 L1580.9 761.3 L1586.3 762.2 L1591.7 759.8 L1597.2 755.0 L1602.6 751.2 L1608.0 749.8 L1613.4 751.6 L1618.8 753.2 L1624.3 753.1 L1629.7 752.1 L1635.1 750.2 L1640.5 744.8 L1645.9 739.4 L1651.3 735.9 L1656.8 732.7 L1662.2 733.3 L1667.6 734.9 L1673.0 737.7 L1678.4 737.4 L1683.9 737.6 L1689.3 735.4 L1694.7 734.3 L1700.1 732.5 L1705.5 733.5 L1710.9 732.9 L1716.4 736.3 L1721.8 738.0 L1727.2 744.2 L1732.6 747.8 L1738.0 749.4 L1743.5 754.6 L1748.9 756.0 L1754.3 756.9 L1759.7 758.1 L1765.1 763.2 L1770.6 764.1 L1776.0 765.3 L1781.4 767.8 L1786.8 769.2 L1792.2 769.2 L1797.6 766.5 L1803.1 761.9 L1808.5 760.2 L1813.9 755.9 L1819.3 750.0 L1824.7 746.6 L1830.2 742.9 L1835.6 739.2 L1841.0 737.2 L1846.4 737.5 L1854.8 740.8" fill="none" stroke="#2e8b6a" stroke-opacity="0.75" stroke-width="2" stroke-linejoin="round"/>
</g>
<path d="M10 620H1906" stroke="#6a6a6a" stroke-width="1.6"/>
<path d="M10 853.5H1906" stroke="#222" stroke-width="1.5"/>
<path d="M1855.5 10V875" stroke="#555" stroke-width="1.5"/>
<text x="18" y="30" font-family="Liberation Sans, sans-serif" font-size="12.3" fill="#4a4a4a" textLength="156.4" lengthAdjust="spacingAndGlyphs">PREC.M.XAU=, 1D, FXS, Bid</text>
<text x="183.2" y="30" font-family="Liberation Sans, sans-serif" font-size="12.3" fill="#5b5bff" textLength="57.7" lengthAdjust="spacingAndGlyphs">3395.2400</text>
<text x="249.7" y="30" font-family="Liberation Sans, sans-serif" font-size="12.3" fill="#5b5bff" textLength="94.4" lengthAdjust="spacingAndGlyphs">-1.7700 (−0.05%)</text>
<text x="362.9" y="30" font-family="Liberation Sans, sans-serif" font-size="12.3" fill="#4a4a4a" textLength="96.3" lengthAdjust="spacingAndGlyphs">MA (25, close, 0)</text>
<text x="467.8" y="30" font-family="Liberation Sans, sans-serif" font-size="12.3" fill="#e8336b" textLength="57.9" lengthAdjust="spacingAndGlyphs">3349.0632</text>
<text x="18" y="640.3" font-family="Liberation Sans, sans-serif" font-size="12.3" fill="#4a4a4a" textLength="182" lengthAdjust="spacingAndGlyphs">RSI (9, Exponential, Simple, 14)</text>
<text x="208.8" y="640.3" font-family="Liberation Sans, sans-serif" font-size="12.3" fill="#6b6bff" textLength="44.2" lengthAdjust="spacingAndGlyphs">67.0968</text>
<text x="261.4" y="640.3" font-family="Liberation Sans, sans-serif" font-size="12.3" fill="#2e8b6a" textLength="45.1" lengthAdjust="spacingAndGlyphs">52.8726</text>
<text x="324.8" y="640.3" font-family="Liberation Sans, sans-serif" font-size="12.3" fill="#4a4a4a" textLength="189" lengthAdjust="spacingAndGlyphs">RSI (14, Exponential, Simple, 25)</text>
<text x="521.8" y="640.3" font-family="Liberation Sans, sans-serif" font-size="12.3" fill="#ff33ff" textLength="45.2" lengthAdjust="spacingAndGlyphs">62.0176</text>
<text x="575" y="640.3" font-family="Liberation Sans, sans-serif" font-size="12.3" fill="#555555" textLength="45.3" lengthAdjust="spacingAndGlyphs">52.1417</text>
<rect x="1858.5" y="14" width="43.5" height="49.5" rx="4" fill="#fff" stroke="#eeeeee" stroke-width="1"/>
<text x="1867.7" y="31" font-family="Liberation Sans, sans-serif" font-size="12.3" fill="#4a4a4a" textLength="20.4" lengthAdjust="spacingAndGlyphs">USD</text>
<text x="1867.7" y="56" font-family="Liberation Sans, sans-serif" font-size="12.3" fill="#4a4a4a" textLength="20.1" lengthAdjust="spacingAndGlyphs">oz t</text>
<text x="1859.7" y="615.9499999999999" font-family="Liberation Sans, sans-serif" font-size="8.4" fill="#555555" textLength="35.5" lengthAdjust="spacingAndGlyphs">2000.0000</text>
<text x="1859.7" y="580.1949999999999" font-family="Liberation Sans, sans-serif" font-size="8.4" fill="#555555" textLength="35.5" lengthAdjust="spacingAndGlyphs">2100.0000</text>
<text x="1859.7" y="544.4399999999999" font-family="Liberation Sans, sans-serif" font-size="8.4" fill="#555555" textLength="35.5" lengthAdjust="spacingAndGlyphs">2200.0000</text>
<text x="1859.7" y="508.685" font-family="Liberation Sans, sans-serif" font-size="8.4" fill="#555555" textLength="35.5" lengthAdjust="spacingAndGlyphs">2300.0000</text>
<text x="1859.7" y="472.93" font-family="Liberation Sans, sans-serif" font-size="8.4" fill="#555555" textLength="35.5" lengthAdjust="spacingAndGlyphs">2400.0000</text>
<text x="1859.7" y="437.175" font-family="Liberation Sans, sans-serif" font-size="8.4" fill="#555555" textLength="35.5" lengthAdjust="spacingAndGlyphs">2500.0000</text>
<text x="1859.7" y="401.42" font-family="Liberation Sans, sans-serif" font-size="8.4" fill="#555555" textLength="35.5" lengthAdjust="spacingAndGlyphs">2600.0000</text>
<text x="1859.7" y="365.665" font-family="Liberation Sans, sans-serif" font-size="8.4" fill="#555555" textLength="35.5" lengthAdjust="spacingAndGlyphs">2700.0000</text>
<text x="1859.7" y="329.91" font-family="Liberation Sans, sans-serif" font-size="8.4" fill="#555555" textLength="35.5" lengthAdjust="spacingAndGlyphs">2800.0000</text>
<text x="1859.7" y="294.15500000000003" font-family="Liberation Sans, sans-serif" font-size="8.4" fill="#555555" textLength="35.5" lengthAdjust="spacingAndGlyphs">2900.0000</text>
<text x="1859.7" y="258.40000000000003" font-family="Liberation Sans, sans-serif" font-size="8.4" fill="#555555" textLength="35.5" lengthAdjust="spacingAndGlyphs">3000.0000</text>
<text x="1859.7" y="222.64500000000004" font-family="Liberation Sans, sans-serif" font-size="8.4" fill="#555555" textLength="35.5" lengthAdjust="spacingAndGlyphs">3100.0000</text>
<text x="1859.7" y="186.89000000000004" font-family="Liberation Sans, sans-serif" font-size="8.4" fill="#555555" textLength="35.5" lengthAdjust="spacingAndGlyphs">3200.0000</text>
<text x="1859.7" y="151.13500000000005" font-family="Liberation Sans, sans-serif" font-size="8.4" fill="#555555" textLength="35.5" lengthAdjust="spacingAndGlyphs">3300.0000</text>
<text x="1859.7" y="115.38000000000004" font-family="Liberation Sans, sans-serif" font-size="8.4" fill="#555555" textLength="35.5" lengthAdjust="spacingAndGlyphs">3400.0000</text>
<text x="1859.7" y="79.62500000000004" font-family="Liberation Sans, sans-serif" font-size="8.4" fill="#555555" textLength="35.5" lengthAdjust="spacingAndGlyphs">3500.0000</text>
<text x="1859.7" y="846.8" font-family="Liberation Sans, sans-serif" font-size="8.4" fill="#555555" textLength="27.8" lengthAdjust="spacingAndGlyphs">10.0000</text>
<text x="1859.7" y="823.245" font-family="Liberation Sans, sans-serif" font-size="8.4" fill="#555555" textLength="27.8" lengthAdjust="spacingAndGlyphs">20.0000</text>
<text x="1859.7" y="799.6899999999999" font-family="Liberation Sans, sans-serif" font-size="8.4" fill="#555555" textLength="27.8" lengthAdjust="spacingAndGlyphs">30.0000</text>
<text x="1859.7" y="776.135" font-family="Liberation Sans, sans-serif" font-size="8.4" fill="#555555" textLength="27.8" lengthAdjust="spacingAndGlyphs">40.0000</text>
<text x="1859.7" y="752.5799999999999" font-family="Liberation Sans, sans-serif" font-size="8.4" fill="#555555" textLength="27.8" lengthAdjust="spacingAndGlyphs">50.0000</text>
<text x="1859.7" y="729.025" font-family="Liberation Sans, sans-serif" font-size="8.4" fill="#555555" textLength="27.8" lengthAdjust="spacingAndGlyphs">60.0000</text>
<text x="1859.7" y="705.4699999999999" font-family="Liberation Sans, sans-serif" font-size="8.4" fill="#555555" textLength="27.8" lengthAdjust="spacingAndGlyphs">70.0000</text>
<text x="1859.7" y="681.915" font-family="Liberation Sans, sans-serif" font-size="8.4" fill="#555555" textLength="27.8" lengthAdjust="spacingAndGlyphs">80.0000</text>
<text x="1859.7" y="658.3599999999999" font-family="Liberation Sans, sans-serif" font-size="8.4" fill="#555555" textLength="27.8" lengthAdjust="spacingAndGlyphs">90.0000</text>
<text x="1859.7" y="634.805" font-family="Liberation Sans, sans-serif" font-size="8.4" fill="#555555" textLength="31.3" lengthAdjust="spacingAndGlyphs">100.0000</text>
<rect x="1856" y="120.5" width="44" height="10" rx="1.5" fill="#fff" stroke="#e8336b" stroke-width="1.2"/>
<text x="1859.5" y="128.6" font-family="Liberation Sans, sans-serif" font-size="8.4" fill="#e8336b" textLength="37" lengthAdjust="spacingAndGlyphs">3341.2673</text>
<rect x="1856" y="130.5" width="44" height="11" rx="1.5" fill="#3333ff" stroke="#3333ff" stroke-width="1"/>
<text x="1859.5" y="139.2" font-family="Liberation Sans, sans-serif" font-size="8.4" fill="#ffffff" textLength="37" lengthAdjust="spacingAndGlyphs" font-weight="bold">3335.9250</text>
<rect x="1856" y="735" width="35.5" height="9.799999999999955" rx="2" fill="#fff" stroke="#2e8b6a" stroke-width="1.3"/>
<text x="1859.5" y="742.9" font-family="Liberation Sans, sans-serif" font-size="8.4" fill="#2e8b6a" textLength="28.5" lengthAdjust="spacingAndGlyphs">54.5717</text>
<rect x="1856" y="746.2" width="35.5" height="9.299999999999955" rx="2" fill="#fff" stroke="#555555" stroke-width="1.3"/>
<text x="1859.5" y="753.85" font-family="Liberation Sans, sans-serif" font-size="8.4" fill="#555555" textLength="28.5" lengthAdjust="spacingAndGlyphs">49.7156</text>
<rect x="1856" y="760.6" width="35.5" height="9.699999999999932" rx="2" fill="#fff" stroke="#ff00ff" stroke-width="1.3"/>
<text x="1859.5" y="768.45" font-family="Liberation Sans, sans-serif" font-size="8.4" fill="#ff00ff" textLength="28.5" lengthAdjust="spacingAndGlyphs">43.5916</text>
<rect x="1856" y="773.1" width="35.5" height="10.100000000000023" rx="2" fill="#fff" stroke="#4444ff" stroke-width="1.3"/>
<text x="1859.5" y="781.1500000000001" font-family="Liberation Sans, sans-serif" font-size="8.4" fill="#6b6bff" textLength="28.5" lengthAdjust="spacingAndGlyphs">37.9586</text>
<defs><clipPath id="ct"><rect x="10" y="854" width="1845" height="21"/></clipPath></defs><g clip-path="url(#ct)">
<text x="3.58" y="867.5" font-family="Liberation Sans, sans-serif" font-size="8.4" fill="#555" textLength="11.24" lengthAdjust="spacingAndGlyphs">Apr</text>
<text x="116.78" y="867.5" font-family="Liberation Sans, sans-serif" font-size="8.4" fill="#555" textLength="13.65" lengthAdjust="spacingAndGlyphs">May</text>
<text x="179.18" y="867.5" font-family="Liberation Sans, sans-serif" font-size="8.4" fill="#555" textLength="8.03" lengthAdjust="spacingAndGlyphs">16</text>
<text x="242.58" y="867.5" font-family="Liberation Sans, sans-serif" font-size="8.4" fill="#555" textLength="11.65" lengthAdjust="spacingAndGlyphs">Jun</text>
<text x="351.78" y="867.5" font-family="Liberation Sans, sans-serif" font-size="8.4" fill="#555" textLength="9.23" lengthAdjust="spacingAndGlyphs">Jul</text>
<text x="412.48" y="867.5" font-family="Liberation Sans, sans-serif" font-size="8.4" fill="#555" textLength="8.03" lengthAdjust="spacingAndGlyphs">16</text>
<text x="474.87" y="867.5" font-family="Liberation Sans, sans-serif" font-size="8.4" fill="#555" textLength="12.85" lengthAdjust="spacingAndGlyphs">Aug</text>
<text x="536.68" y="867.5" font-family="Liberation Sans, sans-serif" font-size="8.4" fill="#555" textLength="8.03" lengthAdjust="spacingAndGlyphs">16</text>
<text x="593.87" y="867.5" font-family="Liberation Sans, sans-serif" font-size="8.4" fill="#555" textLength="12.85" lengthAdjust="spacingAndGlyphs">Sep</text>
<text x="708.28" y="867.5" font-family="Liberation Sans, sans-serif" font-size="8.4" fill="#555" textLength="11.24" lengthAdjust="spacingAndGlyphs">Oct</text>
<text x="769.98" y="867.5" font-family="Liberation Sans, sans-serif" font-size="8.4" fill="#555" textLength="8.03" lengthAdjust="spacingAndGlyphs">16</text>
<text x="832.28" y="867.5" font-family="Liberation Sans, sans-serif" font-size="8.4" fill="#555" textLength="12.85" lengthAdjust="spacingAndGlyphs">Nov</text>
<text x="946.18" y="867.5" font-family="Liberation Sans, sans-serif" font-size="8.4" fill="#555" textLength="12.85" lengthAdjust="spacingAndGlyphs">Dec</text>
<text x="1066.6" y="867.5" font-family="Liberation Sans, sans-serif" font-size="8.4" fill="#333" font-weight="bold" text-anchor="middle">2025</text>
<text x="1121.98" y="867.5" font-family="Liberation Sans, sans-serif" font-size="8.4" fill="#555" textLength="8.03" lengthAdjust="spacingAndGlyphs">17</text>
<text x="1179.48" y="867.5" font-family="Liberation Sans, sans-serif" font-size="8.4" fill="#555" textLength="12.45" lengthAdjust="spacingAndGlyphs">Feb</text>
<text x="1287.18" y="867.5" font-family="Liberation Sans, sans-serif" font-size="8.4" fill="#555" textLength="12.44" lengthAdjust="spacingAndGlyphs">Mar</text>
<text x="1401.98" y="867.5" font-family="Liberation Sans, sans-serif" font-size="8.4" fill="#555" textLength="11.24" lengthAdjust="spacingAndGlyphs">Apr</text>
<text x="1514.28" y="867.5" font-family="Liberation Sans, sans-serif" font-size="8.4" fill="#555" textLength="13.65" lengthAdjust="spacingAndGlyphs">May</text>
<text x="1576.98" y="867.5" font-family="Liberation Sans, sans-serif" font-size="8.4" fill="#555" textLength="8.03" lengthAdjust="spacingAndGlyphs">16</text>
<text x="1634.88" y="867.5" font-family="Liberation Sans, sans-serif" font-size="8.4" fill="#555" textLength="11.65" lengthAdjust="spacingAndGlyphs">Jun</text>
<text x="1750.08" y="867.5" font-family="Liberation Sans, sans-serif" font-size="8.4" fill="#555" textLength="9.23" lengthAdjust="spacingAndGlyphs">Jul</text>
<text x="1810.28" y="867.5" font-family="Liberation Sans, sans-serif" font-size="8.4" fill="#555" textLength="8.03" lengthAdjust="spacingAndGlyphs">16</text>
</g>
<text x="1866.8" y="900" font-family="Liberation Sans, sans-serif" font-size="16.4" fill="#0a1eff" textLength="38.6" lengthAdjust="spacingAndGlyphs" font-weight="bold">LSEG</text>
<path d="M1833 885h1v1h-1zM1837 885h2v1h-2zM1855 885h1v1h-1zM1833 886h2v1h-2zM1836 886h4v1h-4zM1854 886h5v1h-5zM1833 887h3v1h-3zM1837 887h4v1h-4zM1842 887h1v1h-1zM1851 887h1v1h-1zM1853 887h8v1h-8zM1832 888h10v1h-10zM1843 888h7v1h-7zM1851 888h2v1h-2zM1854 888h7v1h-7zM1832 889h24v1h-24zM1858 889h3v1h-3zM1833 890h3v1h-3zM1838 890h7v1h-7zM1848 890h4v1h-4zM1853 890h3v1h-3zM1857 890h4v1h-4zM1833 891h27v1h-27zM1835 892h3v1h-3zM1840 892h6v1h-6zM1847 892h13v1h-13zM1832 893h2v1h-2zM1836 893h4v1h-4zM1841 893h6v1h-6zM1848 893h8v1h-8zM1858 893h3v1h-3zM1832 894h3v1h-3zM1836 894h3v1h-3zM1841 894h3v1h-3zM1846 894h1v1h-1zM1848 894h1v1h-1zM1850 894h5v1h-5zM1859 894h2v1h-2zM1835 895h5v1h-5zM1842 895h3v1h-3zM1847 895h2v1h-2zM1851 895h2v1h-2zM1855 895h3v1h-3zM1859 895h1v1h-1zM1834 896h3v1h-3zM1839 896h2v1h-2zM1844 896h2v1h-2zM1848 896h3v1h-3zM1853 896h1v1h-1zM1856 896h3v1h-3zM1834 897h3v1h-3zM1839 897h12v1h-12zM1852 897h3v1h-3zM1856 897h4v1h-4zM1835 898h3v1h-3zM1843 898h8v1h-8zM1853 898h2v1h-2zM1857 898h2v1h-2zM1836 899h3v1h-3zM1844 899h6v1h-6zM1855 899h3v1h-3zM1835 900h3v1h-3zM1845 900h4v1h-4zM1856 900h3v1h-3zM1835 901h2v1h-2zM1838 901h3v1h-3zM1843 901h1v1h-1zM1849 901h4v1h-4zM1856 901h2v1h-2zM1838 902h2v1h-2zM1843 902h1v1h-1zM1847 902h2v1h-2zM1850 902h2v1h-2zM1854 902h1v1h-1zM1846 903h3v1h-3z" fill="#1a2bff" opacity="0.92"/>
</svg></body></html>
